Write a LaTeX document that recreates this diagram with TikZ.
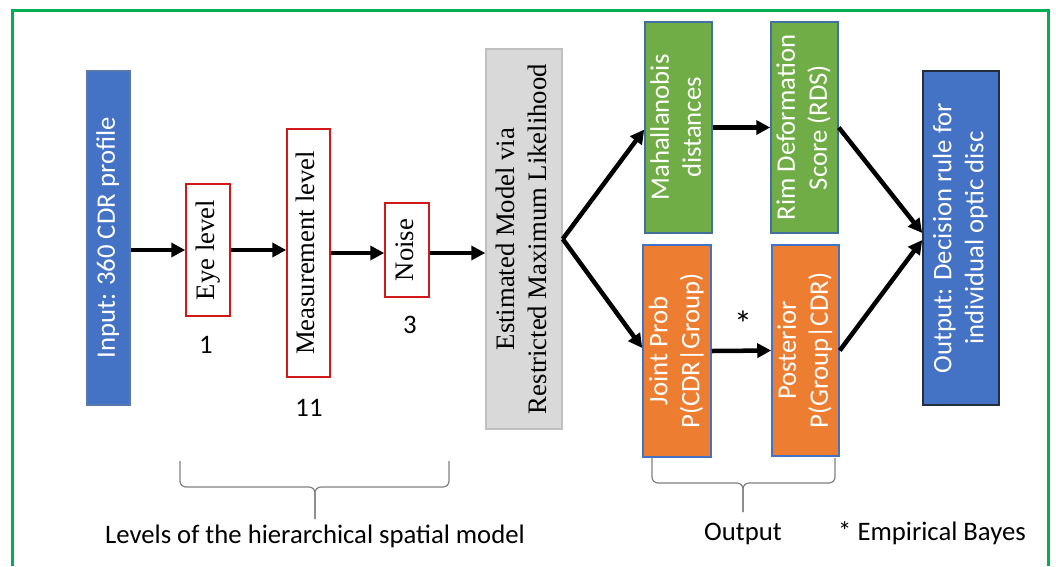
\documentclass[tikz,border=0pt]{standalone}
\usepackage{fontspec}
\setmainfont{Liberation Serif}
\newfontfamily\carl{Carlito}
\usetikzlibrary{arrows.meta}
\definecolor{oblue}{HTML}{4472C4}
\definecolor{oblueb}{HTML}{5A78B0}
\definecolor{bordb}{HTML}{41719C}
\definecolor{ogreen}{HTML}{70AD47}
\definecolor{oorange}{HTML}{ED7D31}
\definecolor{ogray}{HTML}{D9D9D9}
\definecolor{ograyb}{HTML}{BFBFBF}
\definecolor{ored}{HTML}{D01818}
\definecolor{navyb}{HTML}{262D3C}
\definecolor{frame}{HTML}{00B050}
\definecolor{bracec}{HTML}{7F7F7F}
\newcommand{\rottext}[1]{\rotatebox{90}{\begin{tabular}{@{}c@{}}#1\end{tabular}}}
\begin{document}
\begin{tikzpicture}[x=1pt,y=-1pt,
  box/.style={draw, line width=1.5pt, inner sep=0pt, anchor=center},
  redbox/.style={box, draw=ored, fill=white, font=\fontsize{26.7}{32}\selectfont},
  colbox/.style={box, text=white, font=\carl\fontsize{26.7}{32}\selectfont},
  lbl/.style={font=\carl\fontsize{26.7}{32}\selectfont, inner sep=0pt},
  arr/.style={line width=4.5pt, -{Triangle[length=14pt,width=14pt]}},
  brace/.style={draw=bracec, line width=1.2pt, rounded corners=6pt}]
\useasboundingbox (0,0) rectangle (1056,566);
\draw[frame, line width=3pt] (12,566) -- (12,10) -- (1048,10) -- (1048,566);

% nodes
\node[colbox, fill=oblue, draw=oblueb, minimum width=43pt, minimum height=334pt] (in) at (108.5,238) {\rottext{Input: 360 CDR profile}};
\node[redbox, minimum width=44pt, minimum height=132pt] (eye) at (208,250) {\rottext{Eye level}};
\node[redbox, minimum width=43pt, minimum height=248pt] (meas) at (308.5,253) {\rottext{Measurement level}};
\node[redbox, minimum width=44pt, minimum height=94pt] (noise) at (407,250) {\rottext{Noise}};
\node[box, fill=ogray, draw=ograyb, minimum width=76pt, minimum height=380pt, font=\fontsize{26.7}{32}\selectfont] (est) at (524,239) {\rottext{Estimated Model via\\Restricted Maximum Likelihood}};
\node[colbox, fill=ogreen, draw=bordb, minimum width=67pt, minimum height=211pt] (mah) at (678.5,127.5) {\rottext{Mahallanobis\\distances}};
\node[colbox, fill=ogreen, draw=bordb, minimum width=67pt, minimum height=211pt] (rim) at (804.5,127.5) {\rottext{Rim Deformation\\Score (RDS)}};
\node[colbox, fill=oorange, draw=oblue, minimum width=68pt, minimum height=212pt] (joint) at (677,351) {\rottext{Joint Prob\\P(CDR|Group)}};
\node[colbox, fill=oorange, draw=oblue, minimum width=67pt, minimum height=211pt] (post) at (805.5,350.5) {\rottext{Posterior\\P(Group|CDR)}};
\node[colbox, fill=oblue, draw=navyb, minimum width=76pt, minimum height=334pt] (out) at (961,238) {\rottext{Output: Decision rule for\\individual optic disc}};

% labels
\node[lbl] (l1) at (206,345) {1};
\node[lbl] (l11) at (309,408) {11};
\node[lbl] (l3) at (410,325) {3};
\node[lbl, font=\carl\fontsize{36}{40}\selectfont] (star) at (743,324) {*};
\node[lbl, anchor=base] (lev) at (315,543) {Levels of the hierarchical spatial model};
\node[lbl, anchor=base] (outl) at (743,540) {Output};
\node[lbl, anchor=base] (emp) at (932,540) {* Empirical Bayes};

% arrows
\draw[arr] (in.east |- eye.west) -- (eye.west);
\draw[arr] (eye.east) -- (meas.west |- eye.east);
\draw[arr] (meas.east) -- (noise.west |- meas.east);
\draw[arr] (noise.east |- meas.east) -- (est.west |- meas.east);
\draw[arr] (est.east) -- ([yshift=-2pt]mah.west);
\draw[arr] (est.east) -- ([yshift=3pt]joint.west);
\draw[arr] (mah.east) -- (rim.west);
\draw[arr] (joint.east) -- (post.west);
\draw[arr] (rim.east) -- ([yshift=5pt]out.west);
\draw[arr] (post.east) -- ([yshift=-2pt]out.west);

% braces
\coordinate (b1tip) at (315,519);
\coordinate (b2tip) at (743,512);
\draw[brace] (180,461) -- (180,487) -- (315,487) -- (b1tip);
\draw[brace] (449,461) -- (449,487) -- (315,487) -- (b1tip);
\draw[brace] (652,458) -- (652,483) -- (743,483) -- (b2tip);
\draw[brace] (835,458) -- (835,483) -- (743,483) -- (b2tip);
\end{tikzpicture}
\end{document}
